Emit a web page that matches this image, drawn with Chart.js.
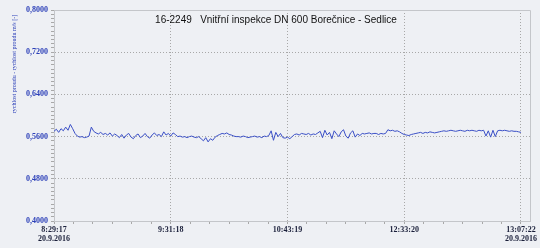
<!DOCTYPE html>
<html>
<head>
<meta charset="utf-8">
<script src="https://cdn.jsdelivr.net/npm/chart.js@4/dist/chart.umd.min.js"></script>
<style>
  html, body { margin: 0; padding: 0; background: #eef0f4; }
  #wrap { width: 540px; height: 248px; }
</style>
</head>
<body>
<div id="wrap"><canvas id="c" width="540" height="248"></canvas></div>
<script>
const chartTitle = "16-2249   Vnitřní inspekce DN 600 Borečnice - Sedlice";
const yTitle = "rychlost proudu - rychlost proudu m/s [-]";
const xLabels = [["8:29:17", "20.9.2016"], "9:31:18", "10:43:19", "12:33:20", ["13:07:22", "20.9.2016"]];
const yMajor = [0.40, 0.48, 0.56, 0.64, 0.72, 0.80];

// measured value along the route, evenly sampled from first to last label
const speed = [
  0.570, 0.574, 0.568, 0.575, 0.571, 0.578, 0.572, 0.583,
  0.575, 0.566, 0.561, 0.559, 0.560, 0.558, 0.559, 0.561,
  0.578, 0.570, 0.567, 0.565, 0.568, 0.564, 0.566, 0.563, 0.567, 0.561, 0.565, 0.562,
  0.558, 0.564, 0.557, 0.563, 0.566, 0.559, 0.556, 0.562, 0.565, 0.558, 0.561, 0.566,
  0.560, 0.557, 0.563, 0.567, 0.562, 0.564, 0.560, 0.569, 0.563, 0.566, 0.561,
  0.567, 0.564, 0.560,
  0.561, 0.559, 0.560, 0.558, 0.560, 0.561, 0.559, 0.558, 0.560,
  0.556, 0.552, 0.558, 0.550, 0.556, 0.553, 0.559,
  0.562, 0.564, 0.566, 0.565, 0.567, 0.564, 0.563, 0.561, 0.560,
  0.560, 0.559, 0.561, 0.560, 0.558, 0.559, 0.560, 0.561, 0.559, 0.560, 0.558, 0.561, 0.560, 0.562,
  0.571, 0.553, 0.568, 0.560, 0.566,
  0.558, 0.557, 0.559, 0.556, 0.560,
  0.564, 0.565, 0.563, 0.566, 0.565, 0.564, 0.566, 0.563, 0.565, 0.564, 0.567,
  0.570, 0.558, 0.572, 0.563, 0.568, 0.556, 0.571, 0.565, 0.560, 0.569,
  0.573, 0.561, 0.557, 0.567, 0.571, 0.559, 0.565, 0.562,
  0.566, 0.565, 0.566, 0.567, 0.565, 0.566, 0.566, 0.564, 0.566, 0.565, 0.566,
  0.573, 0.571, 0.572, 0.570, 0.571, 0.569,
  0.566, 0.564, 0.563, 0.562, 0.564, 0.565,
  0.566, 0.567, 0.568, 0.566, 0.568, 0.567, 0.569, 0.568, 0.567, 0.568, 0.569,
  0.570, 0.571, 0.570, 0.571, 0.572, 0.571, 0.570, 0.571, 0.572, 0.571, 0.570, 0.572,
  0.571, 0.572, 0.571, 0.570, 0.572, 0.571, 0.572,
  0.561, 0.571, 0.559, 0.572, 0.560, 0.571,
  0.572, 0.571, 0.572, 0.571, 0.570, 0.571, 0.570, 0.570, 0.569, 0.568
];

const lastX = xLabels.length - 1;
const points = speed.map((v, i) => ({x: i * lastX / (speed.length - 1), y: v}));

const blue = "#2b3fb8";
const gridCol = "#a8a8a8";

const isMajorX = v => Math.abs(v - Math.round(v)) < 1e-6;
const isMajorY = v => yMajor.some(m => Math.abs(m - v) < 1e-6);

const frame = {
  id: "frame",
  beforeDatasetsDraw(chart) {
    const a = chart.chartArea, ctx = chart.ctx;
    ctx.save();
    ctx.strokeStyle = "#c4c6ca";
    ctx.lineWidth = 1;
    ctx.beginPath();
    ctx.moveTo(a.left, a.top + 0.5);
    ctx.lineTo(a.right + 0.5, a.top + 0.5);
    ctx.lineTo(a.right + 0.5, a.bottom);
    ctx.stroke();
    ctx.restore();
  },
  afterDraw(chart) {
    const ctx = chart.ctx;
    ctx.save();
    ctx.fillStyle = "#111";
    ctx.font = "10px 'Liberation Sans', Arial, sans-serif";
    ctx.textAlign = "center";
    ctx.textBaseline = "middle";
    ctx.fillText(chartTitle, 276, 20);
    // y axis title sits high, next to the upper half of the axis
    ctx.translate(14, 64);
    ctx.rotate(-Math.PI / 2);
    ctx.fillStyle = blue;
    ctx.font = "6px 'Liberation Serif', serif";
    ctx.fillText(yTitle, 0, 0);
    ctx.restore();
  }
};

new Chart(document.getElementById("c"), {
  type: "line",
  data: {
    datasets: [{
      data: points,
      borderColor: "#3a4fc6",
      borderWidth: 1,
      pointRadius: 0,
      tension: 0,
      fill: false
    }]
  },
  options: {
    responsive: false,
    animation: false,
    layout: {padding: {top: 10, right: 10, left: 0, bottom: 0}},
    plugins: {legend: {display: false}, tooltip: {enabled: false}},
    scales: {
      x: {
        type: "linear",
        min: 0,
        max: lastX + 9 / 116.5,
        afterBuildTicks(scale) {
          const t = [];
          for (let k = 0; k <= lastX * 6; k++) t.push({value: k / 6});
          scale.ticks = t;
        },
        afterFit(scale) { scale.height = 27; },
        ticks: {
          autoSkip: false,
          maxRotation: 0,
          padding: 2,
          color: "#1a1f3a",
          font: {family: "'Liberation Serif', serif", size: 8, weight: "bold", lineHeight: 1.1},
          callback: v => isMajorX(v) ? xLabels[Math.round(v)] : ""
        },
        grid: {
          color: c => isMajorX(c.tick.value) && c.tick.value > 0 ? gridCol : "rgba(0,0,0,0)",
          tickColor: gridCol,
          tickLength: 3,
          tickBorderDash: [],
          lineWidth: 1
        },
        border: {display: true, color: "#c4c6ca", dash: [1, 2]}
      },
      y: {
        min: 0.4,
        max: 0.8,
        afterBuildTicks(scale) {
          const t = [];
          for (let k = 0; k <= 50; k++) t.push({value: 0.4 + k * 0.008});
          scale.ticks = t;
        },
        afterFit(scale) { scale.width = 54; },
        ticks: {
          autoSkip: false,
          padding: 3,
          color: blue,
          font: {family: "'Liberation Serif', serif", size: 8, weight: "bold"},
          callback: v => isMajorY(v) ? v.toFixed(4).replace(".", ",") : ""
        },
        grid: {
          color: c => isMajorY(c.tick.value) && c.tick.value > 0.401 ? gridCol : "rgba(0,0,0,0)",
          tickColor: gridCol,
          tickLength: 3,
          tickBorderDash: [],
          lineWidth: 1
        },
        border: {display: true, color: "#c4c6ca", dash: [1, 2]}
      }
    }
  },
  plugins: [frame]
});
</script>
</body>
</html>
